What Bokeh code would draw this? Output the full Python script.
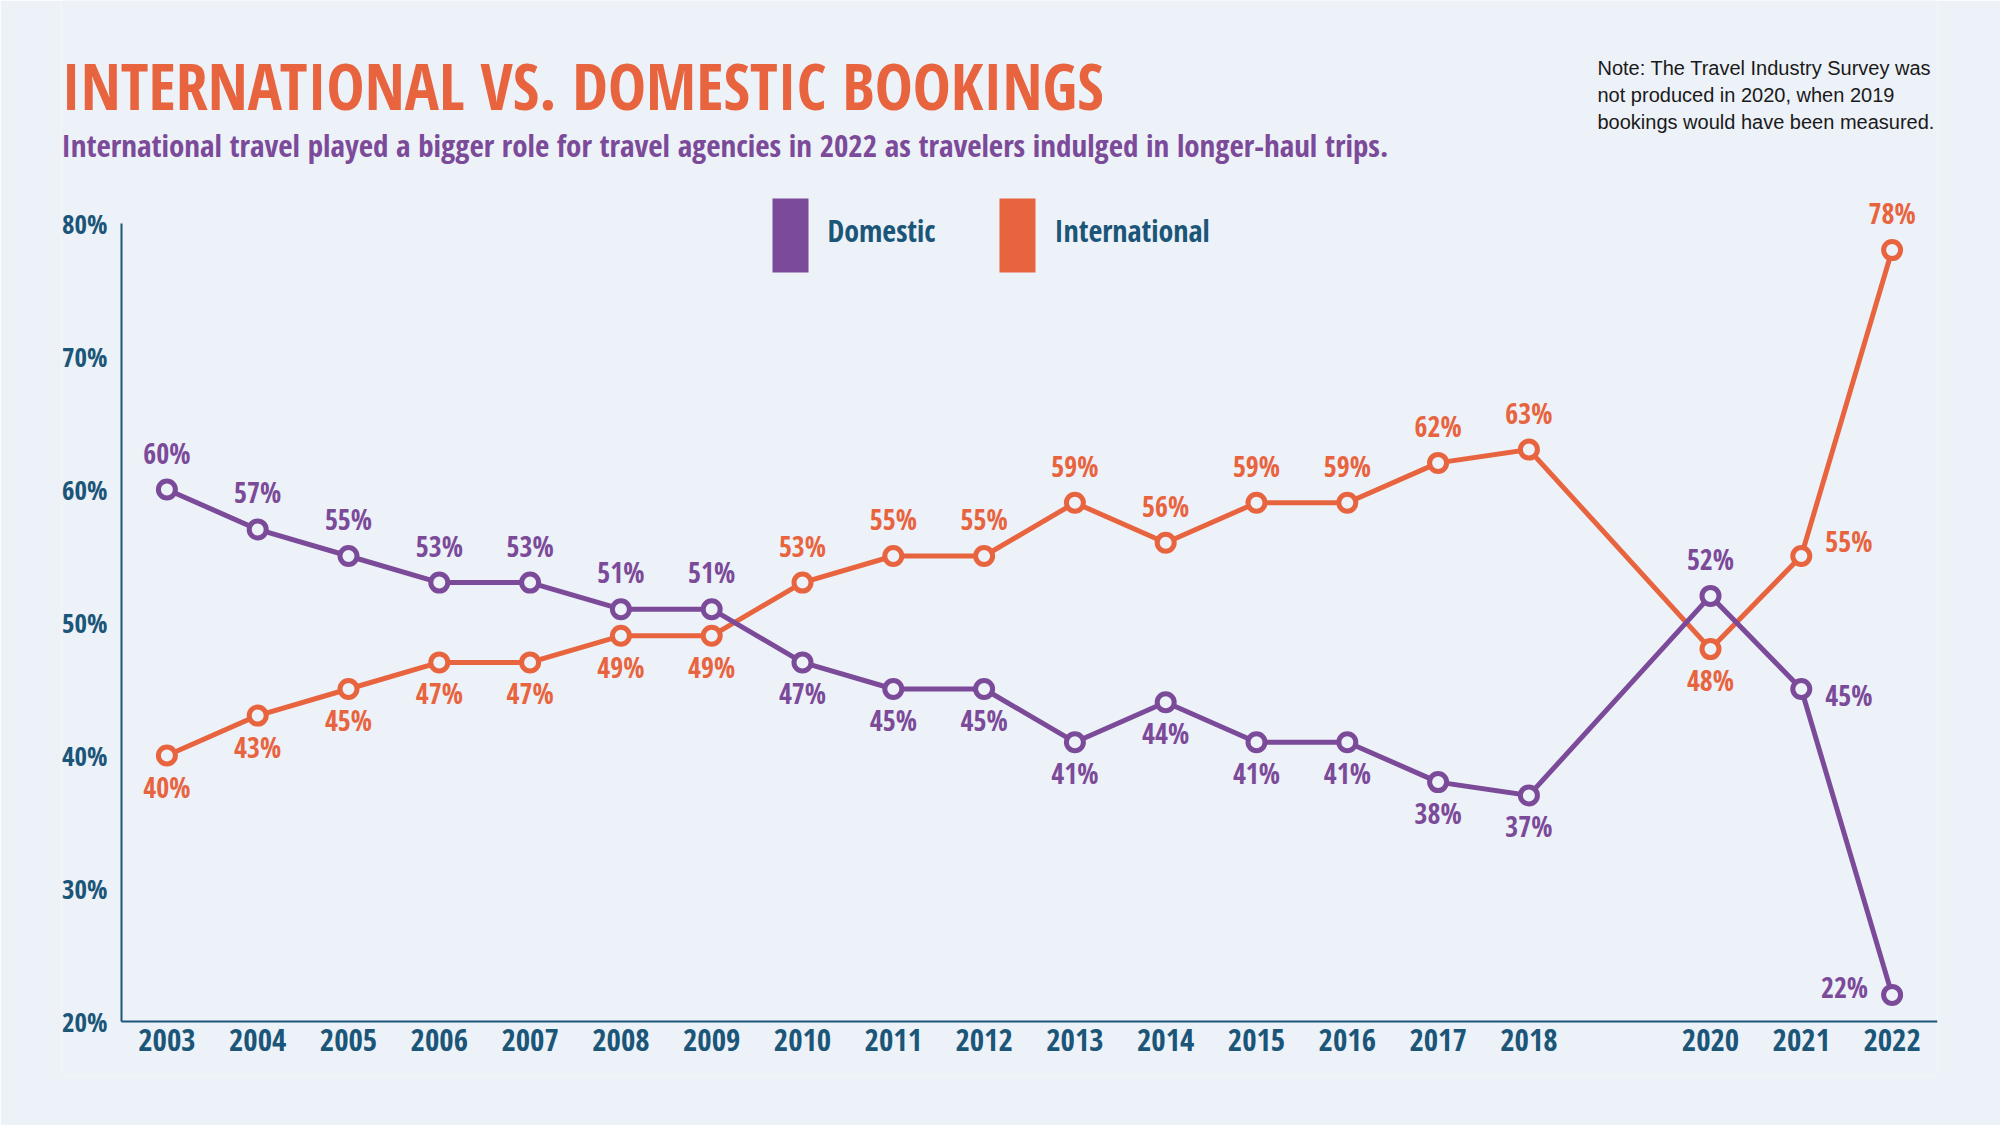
from bokeh.plotting import figure
from bokeh.models import (ColumnDataSource, LabelSet, Label, BoxAnnotation,
                          FixedTicker, Range1d)
from bokeh.core.properties import value
from bokeh.embed import file_html
from bokeh.resources import INLINE

# Survey years (no survey was produced in 2020, so 2019 is absent)
years = [2003, 2004, 2005, 2006, 2007, 2008, 2009, 2010, 2011, 2012,
         2013, 2014, 2015, 2016, 2017, 2018, 2020, 2021, 2022]
domestic = [60, 57, 55, 53, 53, 51, 51, 47, 45, 45,
            41, 44, 41, 41, 38, 37, 52, 45, 22]
international = [40, 43, 45, 47, 47, 49, 49, 53, 55, 55,
                 59, 56, 59, 59, 62, 63, 48, 55, 78]
y_ticks = [20, 30, 40, 50, 60, 70, 80]
y_tick_labels = ["20%", "30%", "40%", "50%", "60%", "70%", "80%"]
x_tick_labels = [str(y) for y in years]
series_names = ["Domestic", "International"]

# where each value label sits relative to its point
domestic_label_side = ["above"] * 7 + ["below"] * 9 + ["above", "right", "left"]
international_label_side = ["below"] * 7 + ["above"] * 9 + ["below", "right_high", "above"]

BG = "#EDF1F8"
PURPLE = "#7B4A99"
ORANGE = "#E8643F"
BLUE = "#1B5679"
FONT = "Open Sans Condensed, Roboto"

# (x offset, y offset, alignment) in pixels for each label side
SIDE_STYLE = {
    "above": (0, 37, "center"),
    "below": (0, -31, "center"),
    "right": (24, -6, "left"),
    "right_high": (24, 15, "left"),
    "left": (-24, 8, "right"),
}

# canvas geometry: the 20 % line sits 1021 px from the top, 13.3 px per point,
# x axis runs from 2002.5 (121 px) to 2022.5 (1937 px)
BASE_Y = 1021
PX_PER_PCT = 13.3
BOTTOM_BORDER = 50
FRAME_BOTTOM = 1125 - BOTTOM_BORDER
y_top = 20 + BASE_Y / PX_PER_PCT
y_bottom = 20 - (FRAME_BOTTOM - BASE_Y) / PX_PER_PCT
x_left = 2002.5 - 60 / 90.8


def sy(canvas_y):
    """screen y (from frame bottom) for a distance from the top of the canvas"""
    return FRAME_BOTTOM - canvas_y


p = figure(width=2000, height=1125, output_backend="svg", toolbar_location=None,
           title=None,
           x_range=Range1d(x_left, 2022.5), y_range=Range1d(y_bottom, y_top),
           min_border_left=61, min_border_right=63,
           min_border_top=0, min_border_bottom=BOTTOM_BORDER,
           background_fill_color=BG, border_fill_color=BG)
p.outline_line_color = None
p.xgrid.visible = False
p.ygrid.visible = False

for ax in (p.xaxis[0], p.yaxis[0]):
    ax.axis_line_color = BLUE
    ax.axis_line_width = 2
    ax.major_tick_line_color = None
    ax.minor_tick_line_color = None
    ax.major_tick_in = 0
    ax.major_tick_out = 0
    ax.minor_tick_in = 0
    ax.minor_tick_out = 0
    ax.major_label_text_color = BLUE
    ax.major_label_text_font = FONT
    ax.major_label_text_font_style = "bold"

p.yaxis.ticker = FixedTicker(ticks=y_ticks)
p.yaxis.major_label_overrides = dict(zip(y_ticks, y_tick_labels))
p.yaxis.major_label_text_font_size = "27px"
p.yaxis.major_label_standoff = 14
p.yaxis.fixed_location = 2002.5
p.yaxis.bounds = (20, 80)

p.xaxis.ticker = FixedTicker(ticks=years)
p.xaxis.major_label_overrides = dict(zip(years, x_tick_labels))
p.xaxis.major_label_text_font_size = "31px"
p.xaxis.major_label_standoff = 7
p.xaxis.fixed_location = 20
p.xaxis.bounds = (2002.5, 2022.5)


def series_source(vals, sides):
    dx = [SIDE_STYLE[s][0] for s in sides]
    dy = [SIDE_STYLE[s][1] for s in sides]
    al = [SIDE_STYLE[s][2] for s in sides]
    return ColumnDataSource(dict(x=years, y=vals, text=[f"{v}%" for v in vals],
                                 dx=dx, dy=dy, align=al))


dom_src = series_source(domestic, domestic_label_side)
intl_src = series_source(international, international_label_side)

p.line("x", "y", source=intl_src, color=ORANGE, line_width=5)
p.line("x", "y", source=dom_src, color=PURPLE, line_width=5)
p.scatter("x", "y", source=intl_src, size=17, fill_color=BG,
          line_color=ORANGE, line_width=5)
p.scatter("x", "y", source=dom_src, size=17, fill_color=BG,
          line_color=PURPLE, line_width=5)

for src, col in ((dom_src, PURPLE), (intl_src, ORANGE)):
    p.add_layout(LabelSet(x="x", y="y", text="text", source=src,
                          x_offset="dx", y_offset="dy", text_align="align",
                          text_baseline="middle", text_color=col,
                          text_font=value(FONT), text_font_style="bold",
                          text_font_size="28px"))

# key: tall colour swatch followed by the series name
for name, col, left in zip(series_names, (PURPLE, ORANGE), (711, 938)):
    p.add_layout(BoxAnnotation(left=left, right=left + 36, bottom=sy(272), top=sy(198),
                               left_units="screen", right_units="screen",
                               bottom_units="screen", top_units="screen",
                               fill_color=col, fill_alpha=1, line_color=None))
    p.add_layout(Label(x=left + 55, y=sy(230), x_units="screen", y_units="screen",
                       text=name, text_font=FONT, text_font_style="bold",
                       text_font_size="30px", text_color=BLUE,
                       text_baseline="middle"))

# headline, deck and note
p.add_layout(Label(x=0, y=sy(85), x_units="screen", y_units="screen",
                   text="INTERNATIONAL VS. DOMESTIC BOOKINGS",
                   text_font=FONT, text_font_style="bold", text_font_size="64px",
                   text_color=ORANGE, text_baseline="middle"))
p.add_layout(Label(x=0, y=sy(144), x_units="screen", y_units="screen",
                   text="International travel played a bigger role for travel agencies "
                        "in 2022 as travelers indulged in longer-haul trips.",
                   text_font=FONT, text_font_style="bold", text_font_size="31px",
                   text_color=PURPLE, text_baseline="middle"))
note_lines = ["Note: The Travel Industry Survey was",
              "not produced in 2020, when 2019",
              "bookings would have been measured."]
for line, cy in zip(note_lines, (67, 94, 121)):
    p.add_layout(Label(x=1536, y=sy(cy), x_units="screen", y_units="screen", text=line,
                       text_font="Liberation Sans", text_font_size="20px",
                       text_color="#1A1A1A", text_baseline="middle"))

open("out.html", "w").write(file_html(p, INLINE))
